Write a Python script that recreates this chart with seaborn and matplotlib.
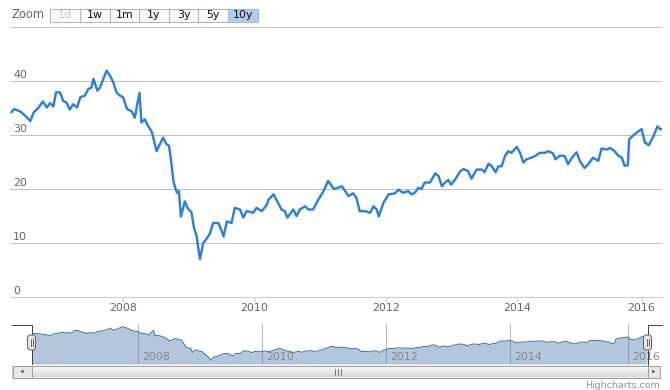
import numpy as np
import pandas as pd
import matplotlib
matplotlib.use("Agg")
import matplotlib.pyplot as plt
import matplotlib.transforms as mtransforms
from matplotlib.patches import Rectangle, FancyBboxPatch, Polygon
import seaborn as sns

# values (decimal year, price)
years = [2006.30, 2006.34, 2006.43, 2006.49, 2006.54, 2006.59, 2006.64, 2006.71, 2006.78, 2006.84,
         2006.89, 2006.94, 2006.98, 2007.04, 2007.09, 2007.14, 2007.19, 2007.24, 2007.30, 2007.35,
         2007.42, 2007.47, 2007.52, 2007.55, 2007.61, 2007.65, 2007.70, 2007.75, 2007.80, 2007.85,
         2007.90, 2007.95, 2008.00, 2008.06, 2008.13, 2008.18, 2008.22, 2008.25, 2008.28, 2008.33,
         2008.38, 2008.44, 2008.49, 2008.51, 2008.56, 2008.61, 2008.66, 2008.70, 2008.73, 2008.77,
         2008.82, 2008.85, 2008.88, 2008.94, 2008.99, 2009.04, 2009.08, 2009.12, 2009.17, 2009.22,
         2009.26, 2009.32, 2009.37, 2009.45, 2009.50, 2009.53, 2009.58, 2009.65, 2009.70, 2009.78,
         2009.83, 2009.88, 2009.98, 2010.03, 2010.11, 2010.19, 2010.21, 2010.29, 2010.36, 2010.41,
         2010.46, 2010.50, 2010.59, 2010.64, 2010.69, 2010.77, 2010.82, 2010.89, 2010.97, 2011.05,
         2011.12, 2011.21, 2011.33, 2011.43, 2011.50, 2011.55, 2011.60, 2011.68, 2011.76, 2011.81,
         2011.86, 2011.89, 2011.96, 2012.04, 2012.14, 2012.19, 2012.26, 2012.34, 2012.39, 2012.44,
         2012.49, 2012.54, 2012.59, 2012.67, 2012.75, 2012.80, 2012.85, 2012.90, 2012.95, 2012.99,
         2013.05, 2013.13, 2013.18, 2013.25, 2013.30, 2013.38, 2013.46, 2013.50, 2013.56, 2013.61,
         2013.67, 2013.71, 2013.76, 2013.81, 2013.86, 2013.91, 2013.99, 2014.04, 2014.09, 2014.14,
         2014.21, 2014.27, 2014.34, 2014.42, 2014.47, 2014.54, 2014.58, 2014.65, 2014.72, 2014.77,
         2014.83, 2014.90, 2014.95, 2015.02, 2015.08, 2015.15, 2015.23, 2015.28, 2015.36, 2015.41,
         2015.48, 2015.53, 2015.59, 2015.63, 2015.68, 2015.70, 2015.76, 2015.81, 2015.89, 2015.94,
         2016.00, 2016.07, 2016.13, 2016.17, 2016.20]
prices = [34.2, 34.8, 34.4, 33.8, 33.2, 32.6, 34.2, 35.0, 36.2, 35.1,
          35.9, 35.3, 37.9, 37.9, 36.3, 36.0, 34.7, 35.7, 35.1, 37.0,
          37.3, 38.5, 38.8, 40.4, 38.2, 38.8, 40.4, 41.9, 41.0, 39.8,
          37.9, 37.3, 37.0, 34.8, 34.4, 33.2, 36.0, 37.8, 32.3, 32.9,
          31.7, 30.5, 28.0, 27.0, 28.3, 29.5, 28.3, 28.0, 25.2, 21.2,
          19.3, 19.6, 14.9, 17.7, 16.3, 15.7, 12.8, 11.2, 7.0, 10.0,
          10.6, 11.7, 13.7, 13.7, 12.2, 11.2, 14.0, 13.7, 16.5, 16.2,
          14.7, 15.9, 15.6, 16.5, 15.9, 17.1, 18.0, 19.0, 17.4, 16.2,
          15.9, 14.7, 16.2, 15.0, 16.2, 16.8, 16.2, 16.2, 18.0, 19.6,
          21.5, 20.0, 20.5, 18.7, 19.2, 18.4, 15.9, 15.9, 15.6, 16.8,
          16.2, 14.9, 17.4, 19.0, 19.2, 19.9, 19.3, 19.6, 19.0, 19.3,
          20.2, 20.0, 21.2, 21.2, 22.9, 22.4, 20.5, 21.2, 21.7, 20.8,
          21.7, 23.3, 23.7, 23.3, 21.9, 23.6, 23.6, 23.1, 24.7, 24.2,
          23.1, 24.2, 24.2, 26.1, 27.0, 26.7, 27.8, 26.7, 24.9, 25.5,
          25.8, 26.1, 26.7, 26.7, 27.0, 26.6, 25.5, 26.2, 26.1, 24.6,
          25.8, 26.8, 25.2, 23.9, 24.6, 25.8, 25.2, 27.5, 27.3, 27.6,
          27.0, 26.2, 25.8, 24.3, 24.4, 29.2, 29.9, 30.4, 31.1, 28.6,
          28.1, 29.8, 31.6, 31.1, 31.1]

y_ticks = [0, 10, 20, 30, 40]
grid_levels = [0, 10, 20, 30, 40, 50]
year_ticks = [2008, 2010, 2012, 2014, 2015.89]
year_labels = ["2008", "2010", "2012", "2014", "2016"]
zoom_buttons = ["1d", "1w", "1m", "1y", "3y", "5y", "10y"]

sns.set_style("white")
plt.rcParams["font.family"] = ["DejaVu Sans"]

W, H = 670, 390
PX = 0.72  # one pixel in points at 100 dpi
fig = plt.figure(figsize=(W / 100, H / 100), dpi=100)


def box(left, top, right, bottom):
    return [left / W, 1 - bottom / H, (right - left) / W, (bottom - top) / H]


df = pd.DataFrame({"year": years, "price": prices})
x0, x1 = 2006.28, 2016.20
txt = 7.9  # ~11px

# ---- main chart
ax = fig.add_axes(box(10, 27, 662, 297))
ax.set_axisbelow(True)
sns.lineplot(data=df, x="year", y="price", ax=ax, color="#2f7ed8", linewidth=2.4 * PX)
ax.set_xlim(x0, x1)
ax.set_ylim(0, 50)
ax.set_yticks(grid_levels)
ax.set_yticklabels([])
ax.grid(axis="y", color="#c0c0c0", linewidth=PX)
ax.grid(axis="x", visible=False)
ax.set_xticks(year_ticks, year_labels)
ax.tick_params(axis="x", bottom=True, length=5 * PX, width=PX, color="#c0d0e0",
               labelcolor="#666666", labelsize=txt, pad=1)
ax.tick_params(axis="y", left=False, length=0)
ax.set_xlabel("")
ax.set_ylabel("")
for s in ["left", "right", "top"]:
    ax.spines[s].set_visible(False)
ax.spines["bottom"].set_color("#c0d0e0")
ax.spines["bottom"].set_linewidth(PX)

ylab_tr = mtransforms.offset_copy(
    mtransforms.blended_transform_factory(ax.transAxes, ax.transData),
    fig=fig, x=3, y=2.5, units="dots")
for v in y_ticks:
    ax.text(0, v, str(v), transform=ylab_tr, ha="left", va="baseline",
            fontsize=txt, color="#666666")

# ---- navigator
nav = fig.add_axes(box(31, 324, 647, 364))
nav.set_axisbelow(True)
nav.fill_between(df["year"], df["price"], 2.8, color="#4572a7", alpha=0.4, linewidth=0)
sns.lineplot(data=df, x="year", y="price", ax=nav, color="#4572a7", linewidth=PX)
nav.set_xlim(x0, x1)
nav.set_ylim(2.8, 44.7)
nav.set_xticks(year_ticks)
nav.set_xticklabels([])
nav.set_yticks([])
nav.grid(axis="x", color="#b8b8b8", linewidth=PX)
nav.tick_params(length=0)
nav.set_xlabel("")
nav.set_ylabel("")
nav.set_facecolor("none")
for s in nav.spines.values():
    s.set_visible(False)

navlab_tr = mtransforms.offset_copy(
    mtransforms.blended_transform_factory(nav.transData, nav.transAxes),
    fig=fig, x=4, y=4.5, units="dots")
for t, lab in zip(year_ticks, year_labels):
    nav.text(t, 0, lab, transform=navlab_tr, ha="left", va="baseline",
             fontsize=txt, color="#888888")

# ---- interface chrome (range selector, navigator handles, scrollbar, credits)
ui = fig.add_axes([0, 0, 1, 1])
ui.set_xlim(0, W)
ui.set_ylim(H, 0)
ui.axis("off")

ui.text(12, 18, "Zoom", ha="left", va="baseline", fontsize=8.3, color="#666666")
edges = [50, 80, 110, 139, 169, 198, 228, 258]
for i, lab in enumerate(zoom_buttons):
    l, r = edges[i], edges[i + 1]
    selected = lab == "10y"
    disabled = lab == "1d"
    fc = "#b3cbee" if selected else "#f9f9f9"
    ui.add_patch(Rectangle((l, 8.5), r - l, 13, facecolor=fc, edgecolor="#a9b6cc", linewidth=PX))
    ui.text((l + r) / 2, 18.2, lab, ha="center", va="baseline", fontsize=txt,
            color="#cccccc" if disabled else "#111111")

# navigator outline
ui.plot([12, 31.5, 31.5], [324.5, 324.5, 365], color="#444444", linewidth=PX)
ui.plot([647.5, 647.5, 662], [365, 324.5, 324.5], color="#444444", linewidth=PX)

# scrollbar
ui.add_patch(Rectangle((12, 365.5), 648, 12.5, facecolor="#eeeeee", edgecolor="#cccccc", linewidth=PX))
grad = np.linspace(0.99, 0.85, 12)[:, None] * np.ones((12, 2))
ui.imshow(grad, cmap="gray", vmin=0, vmax=1, extent=(31.5, 647.5, 377.5, 365.5),
          aspect="auto", interpolation="bilinear", zorder=2)
ui.add_patch(Rectangle((31.5, 365.5), 616, 12, facecolor="none", edgecolor="#9a9a9a",
                       linewidth=PX, zorder=3))
for gx in [335, 338, 341]:
    ui.plot([gx, gx], [369, 374.5], color="#777777", linewidth=PX, zorder=4)
for bl, bw, direction in [(12.5, 19, -1), (647.5, 12.5, 1)]:
    ui.add_patch(Rectangle((bl, 365.5), bw, 12, facecolor="#e6e6e6", edgecolor="#a0a0a0",
                           linewidth=PX, zorder=3))
    cx, cy = bl + bw / 2, 371.5
    ui.add_patch(Polygon([[cx + 1.5 * direction, cy], [cx - 1.5 * direction, cy - 2],
                          [cx - 1.5 * direction, cy + 2]], closed=True,
                         facecolor="#555555", edgecolor="none", zorder=4))

# handles
for hx in [31.5, 647.5]:
    ui.add_patch(FancyBboxPatch((hx - 4, 335), 8, 15,
                                boxstyle="round,pad=0,rounding_size=3",
                                facecolor="#ebe7e8", edgecolor="#666666", linewidth=PX, zorder=5))
    for dx in [-1, 1]:
        ui.plot([hx + dx, hx + dx], [339, 346], color="#666666", linewidth=PX, zorder=6)

ui.text(660, 388, "Highcharts.com", ha="right", va="baseline", fontsize=6.8, color="#909090")
ui.set_xlim(0, W)
ui.set_ylim(H, 0)

fig.savefig("out.png", dpi=100)
